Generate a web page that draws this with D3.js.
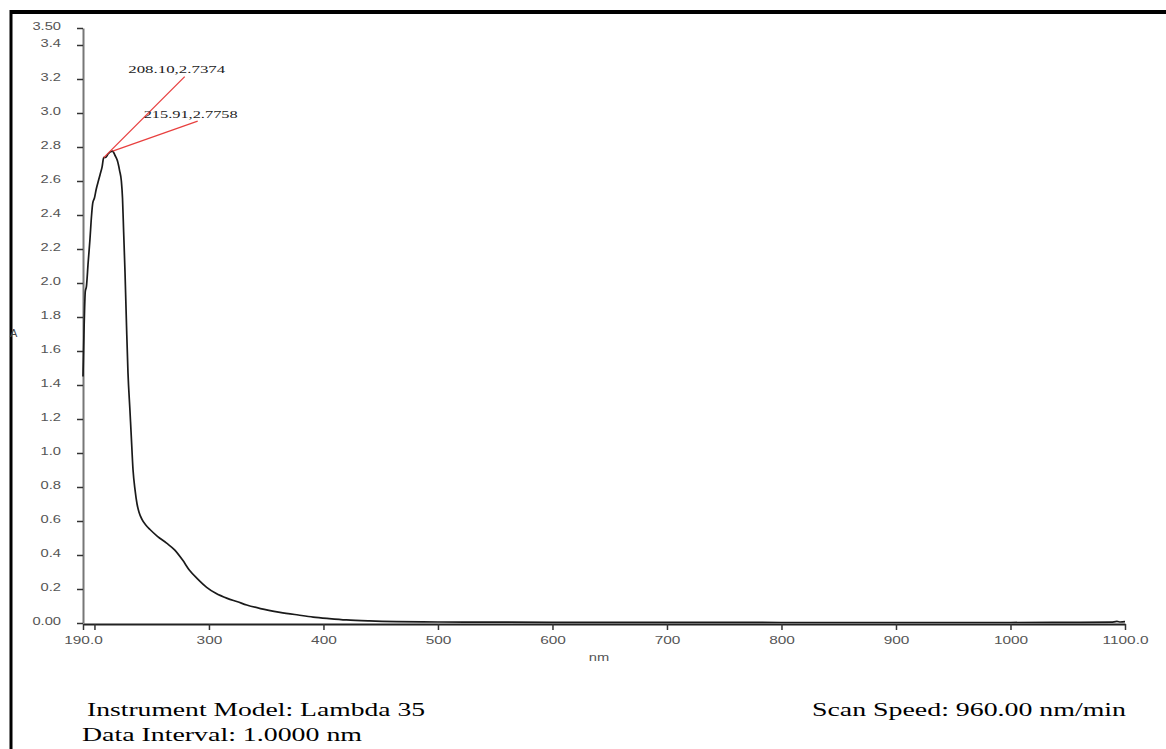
<!DOCTYPE html>
<html>
<head>
<meta charset="utf-8">
<script src="https://cdn.jsdelivr.net/npm/d3@7"></script>
<style>
  body { margin: 0; background: #fff; }
  svg { display: block; }
</style>
</head>
<body>
<div class="spectrum"></div>
<script>
// UV-Vis scan, wavelength (nm) vs absorbance (A)
const wavelength = [190, 191, 192, 193, 194.5, 196, 197.5, 198.5, 200, 201.5, 203, 205, 206.6, 208.1, 210, 212, 215.91,
  218, 220, 222, 223.5, 224.5, 225.5, 226.7, 228, 229.3, 231, 232, 233.7, 235.5, 237.2, 239, 241.5, 245, 248.5,
  255, 263, 270, 277, 283, 290, 298, 306, 316, 325, 333, 345, 362, 378, 391, 405, 420, 440, 464, 500, 550, 600,
  700, 800, 900, 1000, 1050, 1088, 1093, 1096, 1100];
const absorbance = [1.45, 1.75, 1.95, 1.98, 2.12, 2.25, 2.40, 2.47, 2.50, 2.55, 2.59, 2.64, 2.68, 2.7374, 2.74, 2.76, 2.7758,
  2.75, 2.72, 2.66, 2.60, 2.50, 2.30, 2.06, 1.75, 1.47, 1.25, 1.12, 0.90, 0.78, 0.70, 0.65, 0.61, 0.575, 0.55,
  0.51, 0.47, 0.43, 0.37, 0.31, 0.26, 0.21, 0.175, 0.145, 0.125, 0.106, 0.085, 0.063, 0.047, 0.035, 0.026, 0.018, 0.012, 0.008, 0.006, 0.005, 0.004,
  0.004, 0.003, 0.003, 0.003, 0.004, 0.005, 0.009, 0.006, 0.008];

const peakNm = [208.10, 215.91];
const peakA = [2.7374, 2.7758];
const peakLabels = ["208.10,2.7374", "215.91,2.7758"];

const xTicks = [190, 200, 300, 400, 500, 600, 700, 800, 900, 1000, 1100];
const xTickLabels = ["190.0", "", "300", "400", "500", "600", "700", "800", "900", "1000", "1100.0"];
const yTicks = [0, 0.2, 0.4, 0.6, 0.8, 1.0, 1.2, 1.4, 1.6, 1.8, 2.0, 2.2, 2.4, 2.6, 2.8, 3.0, 3.2, 3.4, 3.5];
const yTickLabels = ["0.00", "0.2", "0.4", "0.6", "0.8", "1.0", "1.2", "1.4", "1.6", "1.8", "2.0", "2.2", "2.4", "2.6", "2.8", "3.0", "3.2", "3.4", "3.50"];

const footerLeft = ["Instrument Model: Lambda 35", "Data Interval: 1.0000 nm"];
const footerRight = "Scan Speed: 960.00 nm/min";

const width = 1166;
const height = 749;
const stretch = 1.4; // the scan is printed wide, text looks stretched sideways

const svg = d3.select('.spectrum')
  .append('svg')
  .attr('width', width)
  .attr('height', height);

// frame
svg.append('line').attr('x1', 10).attr('x2', width).attr('y1', 12).attr('y2', 12)
  .attr('stroke', '#000').attr('stroke-width', 4);
svg.append('line').attr('x1', 11).attr('x2', 11).attr('y1', 10).attr('y2', height)
  .attr('stroke', '#000').attr('stroke-width', 3);

const x = d3.scaleLinear().domain([190, 1100]).range([83, 1125]);
const y = d3.scaleLinear().domain([0, 3.5]).range([623, 28]);

function widen(sel, k) {
  sel.each(function() {
    const w = this.getComputedTextLength();
    d3.select(this).attr('textLength', w * k).attr('lengthAdjust', 'spacingAndGlyphs');
  });
}

// y axis
const yAxis = svg.append('g')
  .attr('transform', 'translate(83,0)')
  .call(d3.axisLeft(y).tickValues(yTicks).tickSize(6).tickSizeOuter(0)
    .tickFormat((d, i) => yTickLabels[i]));
yAxis.select('.domain').attr('stroke', '#777').attr('stroke-width', 2);
yAxis.selectAll('.tick line').attr('stroke', '#333').attr('stroke-width', 1.5);
yAxis.selectAll('.tick text')
  .attr('x', -22).attr('dy', '0.1em')
  .attr('fill', '#555')
  .style('font-family', '"Liberation Sans", Arial, sans-serif')
  .style('font-size', '10.5px')
  .call(widen, stretch);

// x axis
const xAxis = svg.append('g')
  .attr('transform', 'translate(0,624)')
  .call(d3.axisBottom(x).tickValues(xTicks).tickSize(6).tickSizeOuter(0)
    .tickFormat((d, i) => xTickLabels[i]));
xAxis.select('.domain').attr('stroke', '#222').attr('stroke-width', 1.8);
xAxis.selectAll('.tick line').attr('stroke', '#333').attr('stroke-width', 1.5);
xAxis.selectAll('.tick text')
  .attr('y', 12)
  .attr('fill', '#555')
  .style('font-family', '"Liberation Sans", Arial, sans-serif')
  .style('font-size', '11px')
  .call(widen, stretch);

// axis titles
svg.append('text').attr('x', 10).attr('y', 337).text('A')
  .attr('fill', '#444')
  .style('font-family', '"Liberation Sans", Arial, sans-serif')
  .style('font-size', '11px');
svg.append('text').attr('x', 599).attr('y', 661).attr('text-anchor', 'middle').text('nm')
  .attr('fill', '#555')
  .style('font-family', '"Liberation Sans", Arial, sans-serif')
  .style('font-size', '10.5px')
  .call(widen, stretch);

// spectrum
const line = d3.line()
  .x(d => x(d[0]))
  .y(d => y(d[1]))
  .curve(d3.curveMonotoneX);

svg.append('path')
  .datum(d3.zip(wavelength, absorbance))
  .attr('d', line)
  .attr('fill', 'none')
  .attr('stroke', '#1a1a1a')
  .attr('stroke-width', 1.7);

// peak picks
const pickOffset = [[81, -81], [85, -30]];
const labelOffset = [[73, -85], [78, -33]];
const labelLen = [97, 94];

peakNm.forEach(function(nm, i) {
  const px = x(nm), py = y(peakA[i]);
  svg.append('line')
    .attr('x1', px).attr('y1', py)
    .attr('x2', px + pickOffset[i][0]).attr('y2', py + pickOffset[i][1])
    .attr('stroke', '#e8403f').attr('stroke-width', 1.3);
  svg.append('text')
    .attr('x', px + labelOffset[i][0]).attr('y', py + labelOffset[i][1])
    .attr('text-anchor', 'middle')
    .attr('textLength', labelLen[i]).attr('lengthAdjust', 'spacingAndGlyphs')
    .attr('fill', '#222')
    .style('font-family', '"Liberation Serif", "Times New Roman", serif')
    .style('font-size', '11px')
    .text(peakLabels[i]);
});

// footer
const serif = '"Liberation Serif", "Times New Roman", serif';
svg.append('text').attr('x', 87).attr('y', 716).text(footerLeft[0])
  .attr('textLength', 338).attr('lengthAdjust', 'spacingAndGlyphs')
  .style('font-family', serif).style('font-size', '19px');
svg.append('text').attr('x', 82).attr('y', 741).text(footerLeft[1])
  .attr('textLength', 280).attr('lengthAdjust', 'spacingAndGlyphs')
  .style('font-family', serif).style('font-size', '19px');
svg.append('text').attr('x', 812).attr('y', 716).text(footerRight)
  .attr('textLength', 314).attr('lengthAdjust', 'spacingAndGlyphs')
  .style('font-family', serif).style('font-size', '19px');
</script>
</body>
</html>
